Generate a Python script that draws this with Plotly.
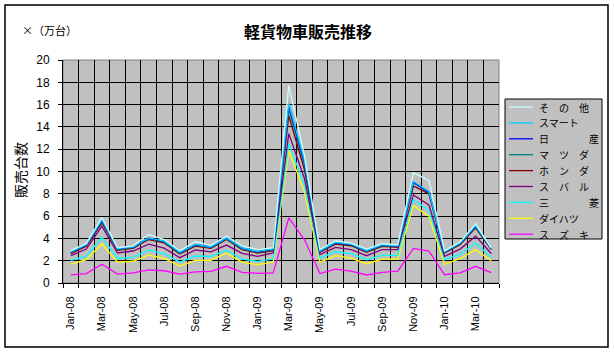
import numpy as np
import plotly.graph_objects as go

months = ["Jan-08","Feb-08","Mar-08","Apr-08","May-08","Jun-08","Jul-08","Aug-08","Sep-08","Oct-08",
          "Nov-08","Dec-08","Jan-09","Feb-09","Mar-09","Apr-09","May-09","Jun-09","Jul-09","Aug-09",
          "Sep-09","Oct-09","Nov-09","Dec-09","Jan-10","Feb-10","Mar-10","Apr-10"]

# per-maker sales (10,000 units), stacked bottom -> top
suzuki     = [0.72,0.84,1.68,0.80,0.90,1.17,1.10,0.80,1.00,1.04,1.50,0.96,0.87,0.90,5.84,3.90,0.85,1.25,1.07,0.72,0.96,1.07,3.10,2.87,0.74,0.90,1.50,0.93]
daihatsu   = [0.98,1.26,1.82,1.08,1.05,1.33,1.10,0.72,1.03,0.99,1.18,0.92,0.77,0.98,6.06,4.30,1.03,1.20,1.17,1.01,1.19,1.08,3.85,3.13,0.94,1.28,1.49,1.07]
mitsubishi = [0.33,0.30,0.59,0.32,0.35,0.45,0.43,0.36,0.39,0.36,0.27,0.27,0.30,0.27,0.60,0.60,0.36,0.35,0.39,0.36,0.33,0.33,0.55,0.50,0.41,0.39,0.59,0.30]
subaru     = [0.42,0.65,1.01,0.49,0.57,0.53,0.50,0.39,0.54,0.41,0.45,0.51,0.45,0.54,0.90,0.60,0.30,0.39,0.36,0.36,0.51,0.51,0.40,0.50,0.30,0.47,0.62,0.35]
honda      = [0.18,0.25,0.30,0.24,0.23,0.42,0.47,0.33,0.35,0.30,0.50,0.33,0.30,0.21,1.60,0.80,0.21,0.30,0.35,0.30,0.29,0.20,0.80,1.00,0.30,0.39,0.75,0.34]
mazda      = [0.08,0.08,0.15,0.08,0.08,0.08,0.08,0.08,0.08,0.08,0.08,0.08,0.08,0.08,0.60,0.40,0.08,0.08,0.08,0.08,0.08,0.08,0.30,0.10,0.06,0.08,0.10,0.06]
nissan     = [0.05,0.05,0.05,0.05,0.05,0.05,0.05,0.05,0.05,0.05,0.05,0.05,0.05,0.05,0.30,0.25,0.05,0.05,0.05,0.05,0.05,0.05,0.05,0.05,0.04,0.05,0.05,0.03]
smart      = [0.02,0.02,0.05,0.02,0.02,0.02,0.02,0.02,0.02,0.02,0.02,0.02,0.02,0.02,0.20,0.15,0.02,0.02,0.02,0.02,0.02,0.02,0.05,0.05,0.02,0.02,0.05,0.02]
others     = [0.12,0.10,0.23,0.08,0.08,0.30,0.15,0.15,0.24,0.12,0.15,0.20,0.15,0.11,1.60,0.50,0.10,0.15,0.09,0.14,0.09,0.09,0.80,1.00,0.09,0.09,0.16,0.03]

series = [
    ("ス　ズ　キ", suzuki, "#FF00FF"),
    ("ダイハツ", daihatsu, "#FFFF00"),
    ("三　　　　菱", mitsubishi, "#00FFFF"),
    ("ス　バ　ル", subaru, "#800080"),
    ("ホ　ン　ダ", honda, "#800000"),
    ("マ　ツ　ダ", mazda, "#008080"),
    ("日　　　　産", nissan, "#0000FF"),
    ("スマート", smart, "#00CCFF"),
    ("そ　の　他", others, "#CCFFFF"),
]

x = list(range(len(months)))
fig = go.Figure()
cum = np.zeros(len(months))
for name, vals, col in series:
    cum = cum + np.array(vals)
    fig.add_trace(go.Scatter(x=x, y=cum.copy(), mode="lines", name=name,
                             line=dict(color=col, width=1.3), showlegend=False))

W, H = 614, 355
L, R, T, B = 63, 115, 60, 72
pw, ph = W - L - R, H - T - B
def px(xp): return (xp - L) / pw
def py(yp): return (H - B - yp) / ph

jp = "Noto Sans CJK JP"

shapes = [
    dict(type="rect", xref="paper", yref="paper", x0=px(5), x1=px(608), y0=py(347), y1=py(5),
         line=dict(color="black", width=1.5), layer="below"),
    dict(type="rect", xref="paper", yref="paper", x0=0, x1=1, y0=0, y1=1,
         line=dict(color="#808080", width=1), layer="below"),
    # legend box
    dict(type="rect", xref="paper", yref="paper", x0=px(505), x1=px(602), y0=py(239), y1=py(99),
         line=dict(color="black", width=1), fillcolor="#C0C0C0", layer="above"),
]
annotations = [
    dict(text="×（万台）", xref="paper", yref="paper", x=px(20), y=py(30),
         xanchor="left", yanchor="middle", showarrow=False, font=dict(family=jp, size=11)),
    dict(text="販売台数", xref="paper", yref="paper", x=px(20), y=py(170),
         xanchor="center", yanchor="middle", textangle=-90, showarrow=False,
         font=dict(family=jp, size=14)),
]
# legend entries (top: その他 ... bottom: スズキ)
for k, (name, vals, col) in enumerate(reversed(series)):
    yc = 107 + 15.9 * k
    shapes.append(dict(type="line", xref="paper", yref="paper", x0=px(509), x1=px(533),
                       y0=py(yc), y1=py(yc), line=dict(color=col, width=1.3), layer="above"))
    annotations.append(dict(text=name, xref="paper", yref="paper", x=px(537), y=py(yc),
                            xanchor="left", yanchor="middle", showarrow=False,
                            font=dict(family=jp, size=10)))

fig.update_layout(
    width=W, height=H,
    margin=dict(l=L, r=R, t=T, b=B, pad=0),
    paper_bgcolor="white", plot_bgcolor="#C0C0C0",
    font=dict(family="Liberation Sans, Arial", size=12, color="black"),
    showlegend=False,
    title=dict(text="<b>軽貨物車販売推移</b>", x=308/W, xanchor="center",
               y=1-32/H, yanchor="middle", font=dict(family=jp, size=16)),
    xaxis=dict(range=[-0.5, len(months)-0.5], tickmode="array",
               tickvals=x[::2], ticktext=months[::2], tickangle=-90,
               showgrid=False, zeroline=False, showline=True, linecolor="black",
               ticks="", tickfont=dict(size=11), ticklabelstandoff=8,
               minor=dict(tick0=-0.5, dtick=1, showgrid=True, gridcolor="black",
                          gridwidth=1, ticks="outside", ticklen=4, tickcolor="black")),
    yaxis=dict(range=[0, 20], dtick=2, showgrid=True, gridcolor="black", gridwidth=1,
               zeroline=False, showline=True, linecolor="black",
               ticks="outside", ticklen=4, tickcolor="black", tickfont=dict(size=12),
               ticklabelstandoff=6),
    shapes=shapes,
    annotations=annotations,
)

fig.write_html("out.html")
